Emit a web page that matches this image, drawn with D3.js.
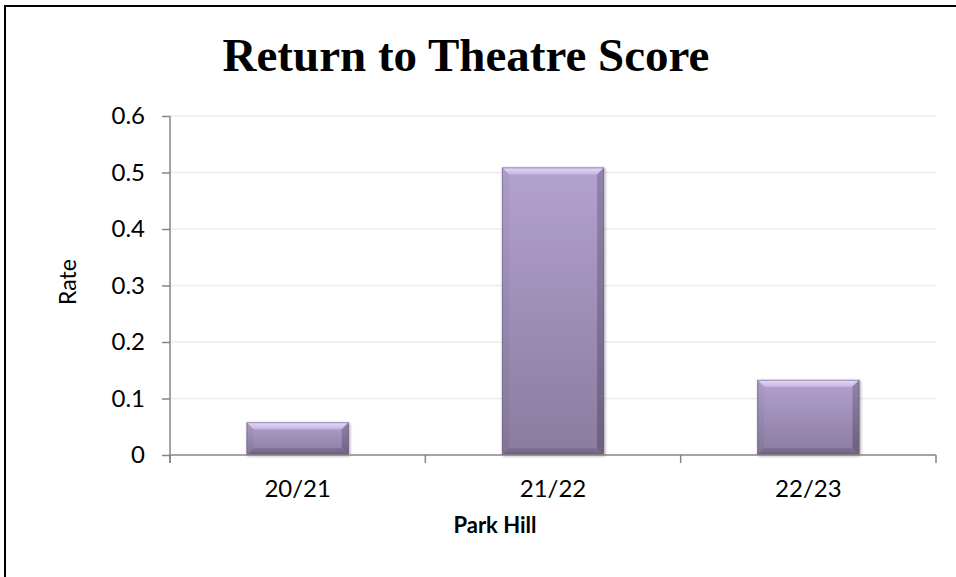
<!DOCTYPE html>
<html>
<head>
<meta charset="utf-8">
<script src="https://cdn.jsdelivr.net/npm/d3@7"></script>
<style>
  html, body { margin: 0; padding: 0; background: #fff; }
  svg { display: block; }
</style>
</head>
<body>
<svg id="chart" width="956" height="577"></svg>
<script>
// Chart data
const seasons = ["20/21", "21/22", "22/23"];
const rates = [0.058, 0.509, 0.133];
const yTicks = [0, 0.1, 0.2, 0.3, 0.4, 0.5, 0.6];
const chartTitle = "Return to Theatre Score";
const xTitle = "Park Hill";
const yTitle = "Rate";

const svg = d3.select("#chart");
const W = 956, H = 577;
const plot = { left: 170, right: 936, top: 116, bottom: 455 };

const x = d3.scaleBand()
  .domain(seasons)
  .range([plot.left, plot.right])
  .paddingInner(0.6)
  .paddingOuter(0.3);

const y = d3.scaleLinear()
  .domain([0, 0.6])
  .range([plot.bottom, plot.top]);

// Outer chart frame (extends past the right and bottom edges)
svg.append("rect")
  .attr("x", 5).attr("y", 6)
  .attr("width", W + 40).attr("height", H + 40)
  .attr("fill", "#fff")
  .attr("stroke", "#000")
  .attr("stroke-width", 2);

// Gradients for the bevelled bars
const defs = svg.append("defs");
function linGrad(id, x1, y1, x2, y2, stops) {
  const g = defs.append("linearGradient").attr("id", id)
    .attr("x1", x1).attr("y1", y1).attr("x2", x2).attr("y2", y2);
  stops.forEach(([o, c]) => g.append("stop").attr("offset", o).attr("stop-color", c));
}
linGrad("face", 0, 0, 0, 1, [[0, "#b2a2ce"], [1, "#8a7b9f"]]);
linGrad("bevTop", 0, 0, 0, 1, [[0, "#e6dafa"], [1, "#c6b6e2"]]);
linGrad("bevLeft", 0, 0, 0, 1, [[0, "#a898c4"], [1, "#7f7092"]]);
linGrad("bevRight", 0, 0, 0, 1, [[0, "#8a7aa4"], [1, "#655877"]]);
linGrad("bevBottom", 0, 0, 0, 1, [[0, "#7d6f92"], [1, "#5f5470"]]);

const shadow = defs.append("filter").attr("id", "shadow")
  .attr("x", "-10%").attr("y", "-10%").attr("width", "120%").attr("height", "120%");
shadow.append("feGaussianBlur").attr("in", "SourceAlpha").attr("stdDeviation", 1.5);
shadow.append("feOffset").attr("dx", 1).attr("dy", 1).attr("result", "off");
shadow.append("feComponentTransfer").append("feFuncA").attr("type", "linear").attr("slope", 0.35);
const merge = shadow.append("feMerge");
merge.append("feMergeNode");
merge.append("feMergeNode").attr("in", "SourceGraphic");

// Gridlines
svg.append("g")
  .selectAll("line")
  .data(yTicks.filter(d => d > 0))
  .join("line")
  .attr("x1", plot.left).attr("x2", plot.right)
  .attr("y1", d => y(d)).attr("y2", d => y(d))
  .attr("stroke", "#ececec")
  .attr("stroke-width", 1.5);

// Bars with a bevelled edge
const bars = svg.append("g").selectAll("g")
  .data(seasons.map((s, i) => ({ s, v: rates[i] })))
  .join("g")
  .attr("filter", "url(#shadow)");

bars.each(function (d) {
  const g = d3.select(this);
  const x0 = x(d.s), x1 = x0 + x.bandwidth();
  const y0 = y(d.v), y1 = y(0);
  const b = Math.min(7, (y1 - y0) / 3);
  const pts = a => a.map(p => p.join(",")).join(" ");
  g.append("rect")
    .attr("x", x0).attr("y", y0)
    .attr("width", x1 - x0).attr("height", y1 - y0)
    .attr("fill", "url(#face)");
  g.append("polygon")
    .attr("points", pts([[x0, y0], [x1, y0], [x1 - b, y0 + b], [x0 + b, y0 + b]]))
    .attr("fill", "url(#bevTop)");
  g.append("polygon")
    .attr("points", pts([[x0, y0], [x0 + b, y0 + b], [x0 + b, y1 - b], [x0, y1]]))
    .attr("fill", "url(#bevLeft)").attr("opacity", 0.6);
  g.append("polygon")
    .attr("points", pts([[x1, y0], [x1, y1], [x1 - b, y1 - b], [x1 - b, y0 + b]]))
    .attr("fill", "url(#bevRight)").attr("opacity", 0.8);
  g.append("polygon")
    .attr("points", pts([[x0, y1], [x0 + b, y1 - b], [x1 - b, y1 - b], [x1, y1]]))
    .attr("fill", "url(#bevBottom)").attr("opacity", 0.75);
  g.append("rect")
    .attr("x", x0 + 0.5).attr("y", y0 + 0.5)
    .attr("width", x1 - x0 - 1).attr("height", y1 - y0 - 1)
    .attr("fill", "none")
    .attr("stroke", "#6e6182")
    .attr("stroke-opacity", 0.6)
    .attr("stroke-width", 1);
});

// Y axis
const yAxis = svg.append("g")
  .attr("transform", `translate(${plot.left},0)`)
  .call(d3.axisLeft(y).tickValues(yTicks).tickSize(8).tickPadding(17)
    .tickFormat(d => d === 0 ? "0" : d3.format(".1f")(d)));
yAxis.select(".domain").attr("d", `M0,${plot.top}V${plot.bottom + 8}`);

// X axis: ticks on category boundaries
const xAxis = svg.append("g")
  .attr("transform", `translate(0,${plot.bottom})`)
  .call(d3.axisBottom(x).tickSize(0).tickPadding(25));
xAxis.select(".domain").attr("d", `M${plot.left},0H${plot.right}`);
const step = x.step();
xAxis.selectAll(".boundary")
  .data(d3.range(seasons.length + 1))
  .join("line")
  .attr("class", "boundary")
  .attr("x1", i => plot.left + i * step).attr("x2", i => plot.left + i * step)
  .attr("y1", 0).attr("y2", 8);

svg.selectAll(".domain, .tick line, .boundary")
  .attr("stroke", "#868686")
  .attr("stroke-width", 1.5);
svg.selectAll(".tick text")
  .attr("fill", "#000")
  .style("font-family", "Lato, 'Liberation Sans', sans-serif")
  .style("font-size", "24px");

// Titles
svg.append("text")
  .attr("x", 466).attr("y", 71)
  .attr("text-anchor", "middle")
  .style("font-family", "'Liberation Serif', 'DejaVu Serif', serif")
  .style("font-weight", "bold")
  .style("font-size", "47px")
  .text(chartTitle);

svg.append("text")
  .attr("x", 495).attr("y", 533)
  .attr("text-anchor", "middle")
  .style("font-family", "Lato, 'Liberation Sans', sans-serif")
  .style("font-weight", "bold")
  .style("font-size", "22px")
  .text(xTitle);

svg.append("text")
  .attr("transform", "translate(76,282) rotate(-90)")
  .attr("text-anchor", "middle")
  .style("font-family", "Lato, 'Liberation Sans', sans-serif")
  .style("font-size", "23px")
  .text(yTitle);
</script>
</body>
</html>
